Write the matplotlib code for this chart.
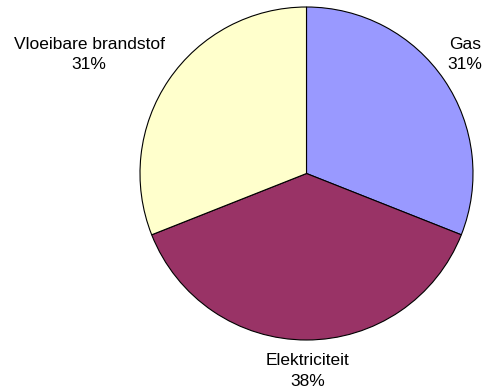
import matplotlib.pyplot as plt

# energieverbruik per bron (procenten)
bronnen = ["Gas", "Elektriciteit", "Vloeibare brandstof"]
aandelen = [31, 38, 31]
kleuren = ["#9999FF", "#993366", "#FFFFCC"]

# plaats van de labels (in eenheden van de straal)
label_pos = [(0.952, 0.715), (0.005, -1.186), (-1.306, 0.715)]

plt.rcParams['font.family'] = ['Liberation Sans', 'DejaVu Sans']

fig = plt.figure(figsize=(4.83, 3.92), dpi=100)
ax = fig.add_axes([140 / 483, 52 / 392, 333 / 483, 333 / 392])

ax.pie(aandelen, colors=kleuren, startangle=90, counterclock=False,
       radius=1, wedgeprops=dict(edgecolor="black", linewidth=0.8))
ax.set_xlim(-1, 1)
ax.set_ylim(-1, 1)
ax.set_aspect("equal")
ax.axis("off")

totaal = sum(aandelen)
for naam, waarde, (x, y) in zip(bronnen, aandelen, label_pos):
    ax.text(x, y, f"{naam}\n{round(100 * waarde / totaal)}%", ha="center", va="center",
            fontsize=12.5, linespacing=1.45, multialignment="center")

fig.savefig("out.png", dpi=100)
